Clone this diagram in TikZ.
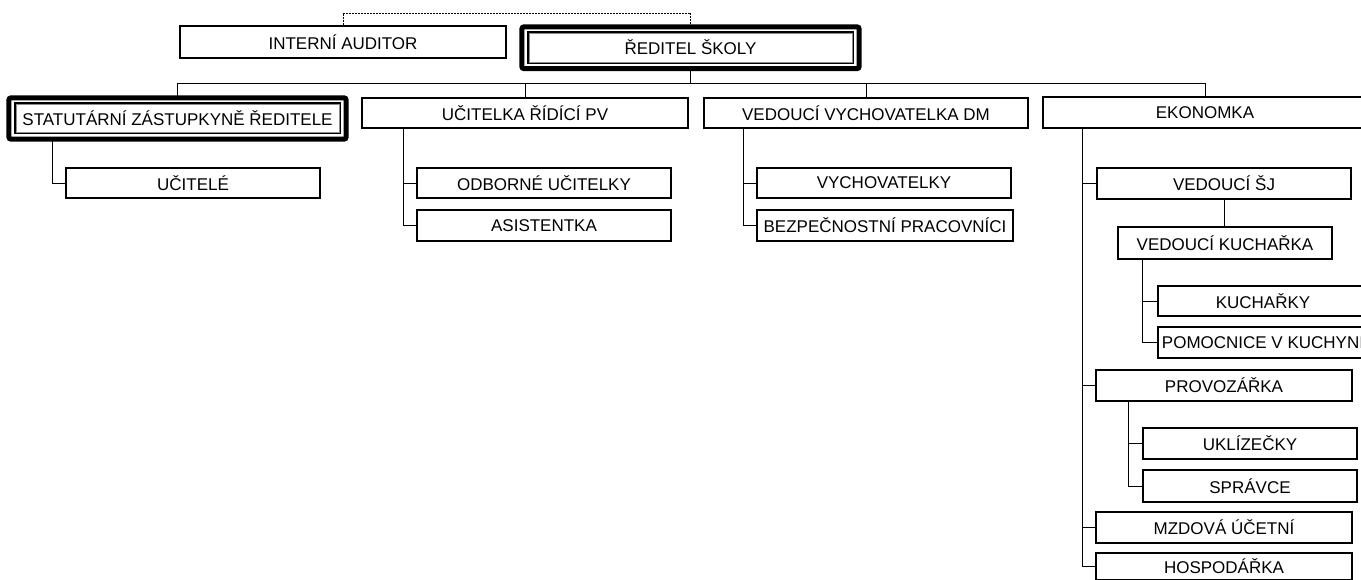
\documentclass[tikz,border=0pt]{standalone}
\usepackage{fontspec}
\setmainfont{Liberation Sans}
\usetikzlibrary{calc,backgrounds}
\pgfdeclarelayer{bg}
\pgfdeclarelayer{frame}
\pgfsetlayers{bg,frame,main}
\tikzset{
  box/.style={draw=black, line width=1.8pt, fill=white, inner sep=0pt, font=\fontsize{17}{20}\selectfont, text=black},
  dblbox/.style={draw=black, line width=1.2pt, fill=white, inner sep=0pt, font=\fontsize{17}{20}\selectfont, text=black},
  thickframe/.style={draw=black, line width=5pt, fill=white, rounded corners=2pt},
  grayline/.style={draw=black!45, line width=1pt},
  conn/.style={draw=black, line width=1pt},
  dashconn/.style={draw=black, line width=0.9pt, dash pattern=on 2pt off 1pt}
}
\begin{document}
\begin{tikzpicture}[x=1pt,y=-1pt]
\useasboundingbox (0,0) rectangle (1361,579);
\clip (0,0) rectangle (1361,579);
% top level
\node[box, minimum width=326pt, minimum height=32pt] (auditor) at (343,42) {INTERNÍ AUDITOR};
\node[dblbox, minimum width=325pt, minimum height=31pt] (reditel) at (690.5,47.5) {ŘEDITEL ŠKOLY};
\node[dblbox, minimum width=325pt, minimum height=30pt] (statutarni) at (177.5,118) {STATUTÁRNÍ ZÁSTUPKYNĚ ŘEDITELE};
\node[box, minimum width=326pt, minimum height=30pt] (ucitelka) at (525,113) {UČITELKA ŘÍDÍCÍ PV};
\node[box, minimum width=324pt, minimum height=30pt] (vedvych) at (866,113) {VEDOUCÍ VYCHOVATELKA DM};
\node[box, minimum width=324pt, minimum height=31pt] (ekonomka) at (1205,112.5) {EKONOMKA};
% second level
\node[box, minimum width=254pt, minimum height=30pt] (ucitele) at (193,183) {UČITELÉ};
\node[box, minimum width=254pt, minimum height=30pt] (odborne) at (544,183) {ODBORNÉ UČITELKY};
\node[box, minimum width=254pt, minimum height=31pt] (asistentka) at (544,225.5) {ASISTENTKA};
\node[box, minimum width=254pt, minimum height=30pt] (vychovatelky) at (884,183) {VYCHOVATELKY};
\node[box, minimum width=256pt, minimum height=31pt] (bezpecnostni) at (885,225.5) {BEZPEČNOSTNÍ PRACOVNÍCI};
\node[box, minimum width=254pt, minimum height=31pt] (vedsj) at (1224,183.5) {VEDOUCÍ ŠJ};
\node[box, minimum width=214pt, minimum height=32pt] (vedkuch) at (1225,243) {VEDOUCÍ KUCHAŘKA};
\node[box, minimum width=210pt, minimum height=30pt] (kucharky) at (1263,301) {KUCHAŘKY};
\node[box, minimum width=210pt, minimum height=31pt] (pomocnice) at (1263,342.5) {POMOCNICE V KUCHYNI};
\node[box, minimum width=256pt, minimum height=31pt] (provozarka) at (1224,385.5) {PROVOZÁŘKA};
\node[box, minimum width=214pt, minimum height=31pt] (uklizecky) at (1250,443.5) {UKLÍZEČKY};
\node[box, minimum width=214pt, minimum height=32pt] (spravce) at (1250,486) {SPRÁVCE};
\node[box, minimum width=256pt, minimum height=31pt] (mzdova) at (1224,527.5) {MZDOVÁ ÚČETNÍ};
\node[box, minimum width=256pt, minimum height=27pt] (hospodarka) at (1224,566.5) {HOSPODÁŘKA};
% gray inner edge of double frames
\draw[grayline] ($(reditel.north west)+(1.6,1.6)$) rectangle ($(reditel.south east)+(-1.6,-1.6)$);
\draw[grayline] ($(statutarni.north west)+(1.6,1.6)$) rectangle ($(statutarni.south east)+(-1.6,-1.6)$);
% thick frames
\begin{pgfonlayer}{frame}
\draw[thickframe] ($(reditel.north west)+(-5.5,-4.5)$) rectangle ($(reditel.south east)+(5.5,5)$);
\draw[thickframe] ($(statutarni.north west)+(-5.5,-4.5)$) rectangle ($(statutarni.south east)+(5.5,5.5)$);
\end{pgfonlayer}
% connector helpers
\coordinate (dtop) at (0,13);
\coordinate (bus) at (0,83);
\coordinate (s1) at (52,0);
\coordinate (u1) at (403,0);
\coordinate (v1) at (743,0);
\coordinate (e1) at (1082,0);
\coordinate (k1) at (1142,0);
\coordinate (p1) at (1128,0);
\begin{pgfonlayer}{bg}
\draw[dashconn] (auditor.north) -- (auditor.north |- dtop) -| (reditel.north);
\draw[conn] (reditel.south) -- (reditel.south |- bus);
\draw[conn] (statutarni.north |- bus) -- (ekonomka.north |- bus);
\draw[conn] (statutarni.north |- bus) -- (statutarni.north);
\draw[conn] (ucitelka.north |- bus) -- (ucitelka.north);
\draw[conn] (vedvych.north |- bus) -- (vedvych.north);
\draw[conn] (ekonomka.north |- bus) -- (ekonomka.north);
\draw[conn] (statutarni.south -| s1) |- (ucitele.west);
\draw[conn] (ucitelka.south -| u1) |- (odborne.west);
\draw[conn] (ucitelka.south -| u1) |- (asistentka.west);
\draw[conn] (vedvych.south -| v1) |- (vychovatelky.west);
\draw[conn] (vedvych.south -| v1) |- (bezpecnostni.west);
\draw[conn] (ekonomka.south -| e1) |- (vedsj.west);
\draw[conn] (ekonomka.south -| e1) |- (provozarka.west);
\draw[conn] (ekonomka.south -| e1) |- (mzdova.west);
\draw[conn] (ekonomka.south -| e1) |- (hospodarka.west);
\draw[conn] (vedsj.south) -- (vedsj.south |- vedkuch.north);
\draw[conn] (vedkuch.south -| k1) |- (kucharky.west);
\draw[conn] (vedkuch.south -| k1) |- (pomocnice.west);
\draw[conn] (provozarka.south -| p1) |- (uklizecky.west);
\draw[conn] (provozarka.south -| p1) |- (spravce.west);
\end{pgfonlayer}
\end{tikzpicture}
\end{document}
